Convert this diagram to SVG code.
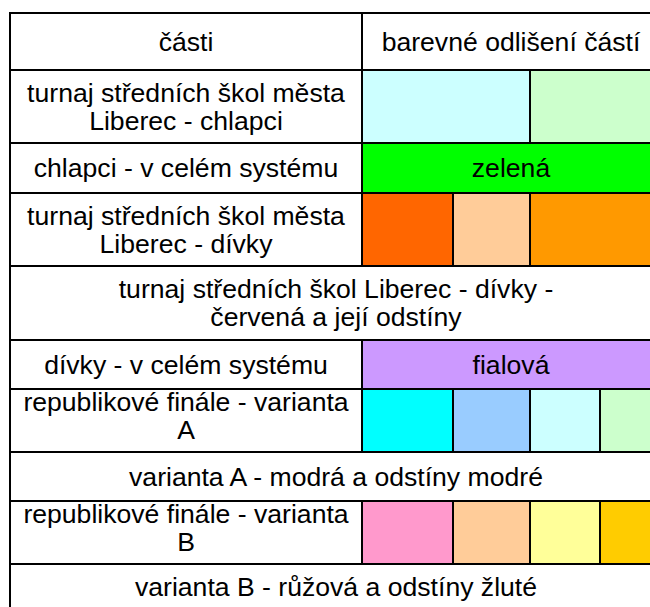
<svg xmlns="http://www.w3.org/2000/svg" width="650" height="607" viewBox="0 0 650 607">
<style>
text{font-family:"Liberation Sans",Arial,sans-serif;font-size:26.6px;fill:#000;text-anchor:middle}
.g{stroke:#000;stroke-width:2;fill:none}
</style>
<rect x="0" y="0" width="650" height="607" fill="#fff"/>
<g id="fills">
<rect x="362" y="70" width="168" height="73" fill="#CCFFFF"/>
<rect x="530" y="70" width="120" height="73" fill="#CCFFCC"/>
<rect x="362" y="143" width="288" height="50" fill="#00FF00"/>
<rect x="362" y="193" width="91" height="73" fill="#FF6600"/>
<rect x="453" y="193" width="77" height="73" fill="#FFCC99"/>
<rect x="530" y="193" width="120" height="73" fill="#FF9900"/>
<rect x="362" y="340" width="288" height="49" fill="#CC99FF"/>
<rect x="362" y="389" width="91" height="63" fill="#00FFFF"/>
<rect x="453" y="389" width="77" height="63" fill="#99CCFF"/>
<rect x="530" y="389" width="70" height="63" fill="#CCFFFF"/>
<rect x="600" y="389" width="50" height="63" fill="#CCFFCC"/>
<rect x="362" y="501" width="91" height="63" fill="#FF99CC"/>
<rect x="453" y="501" width="77" height="63" fill="#FFCC99"/>
<rect x="530" y="501" width="70" height="63" fill="#FFFF99"/>
<rect x="600" y="501" width="50" height="63" fill="#FFCC00"/>
</g>
<g id="grid" class="g">
<path d="M10 13H650M10 70H650M10 143H650M10 193H650M10 266H650M10 340H650M10 389H650M10 452H650M10 501H650M10 564H650"/>
<path d="M10 12V607"/>
<path d="M362 13V266M362 340V452M362 501V564"/>
<path d="M530 70V143M453 193V266M530 193V266"/>
<path d="M453 389V452M530 389V452M600 389V452M453 501V564M530 501V564M600 501V564"/>
</g>
<g id="header">
<text x="186" y="51">části</text>
<text x="511" y="51">barevné odlišení částí</text>
</g>
<g id="row-chlapci-liberec">
<text x="186" y="102">turnaj středních škol města</text>
<text x="186" y="130">Liberec - chlapci</text>
</g>
<g id="row-chlapci-system">
<text x="186" y="177">chlapci - v celém systému</text>
<text x="511" y="177">zelená</text>
</g>
<g id="row-divky-liberec">
<text x="186" y="225">turnaj středních škol města</text>
<text x="186" y="253">Liberec - dívky</text>
</g>
<g id="row-divky-note">
<text x="336" y="298">turnaj středních škol Liberec - dívky -</text>
<text x="336" y="326">červená a její odstíny</text>
</g>
<g id="row-divky-system">
<text x="186" y="374">dívky - v celém systému</text>
<text x="511" y="374">fialová</text>
</g>
<g id="row-varianta-a">
<text x="186" y="411">republikové finále - varianta</text>
<text x="186" y="439">A</text>
</g>
<g id="row-varianta-a-note">
<text x="336" y="486">varianta A - modrá a odstíny modré</text>
</g>
<g id="row-varianta-b">
<text x="186" y="523">republikové finále - varianta</text>
<text x="186" y="551">B</text>
</g>
<g id="row-varianta-b-note">
<text x="336" y="596">varianta B - růžová a odstíny žluté</text>
</g>
</svg>
